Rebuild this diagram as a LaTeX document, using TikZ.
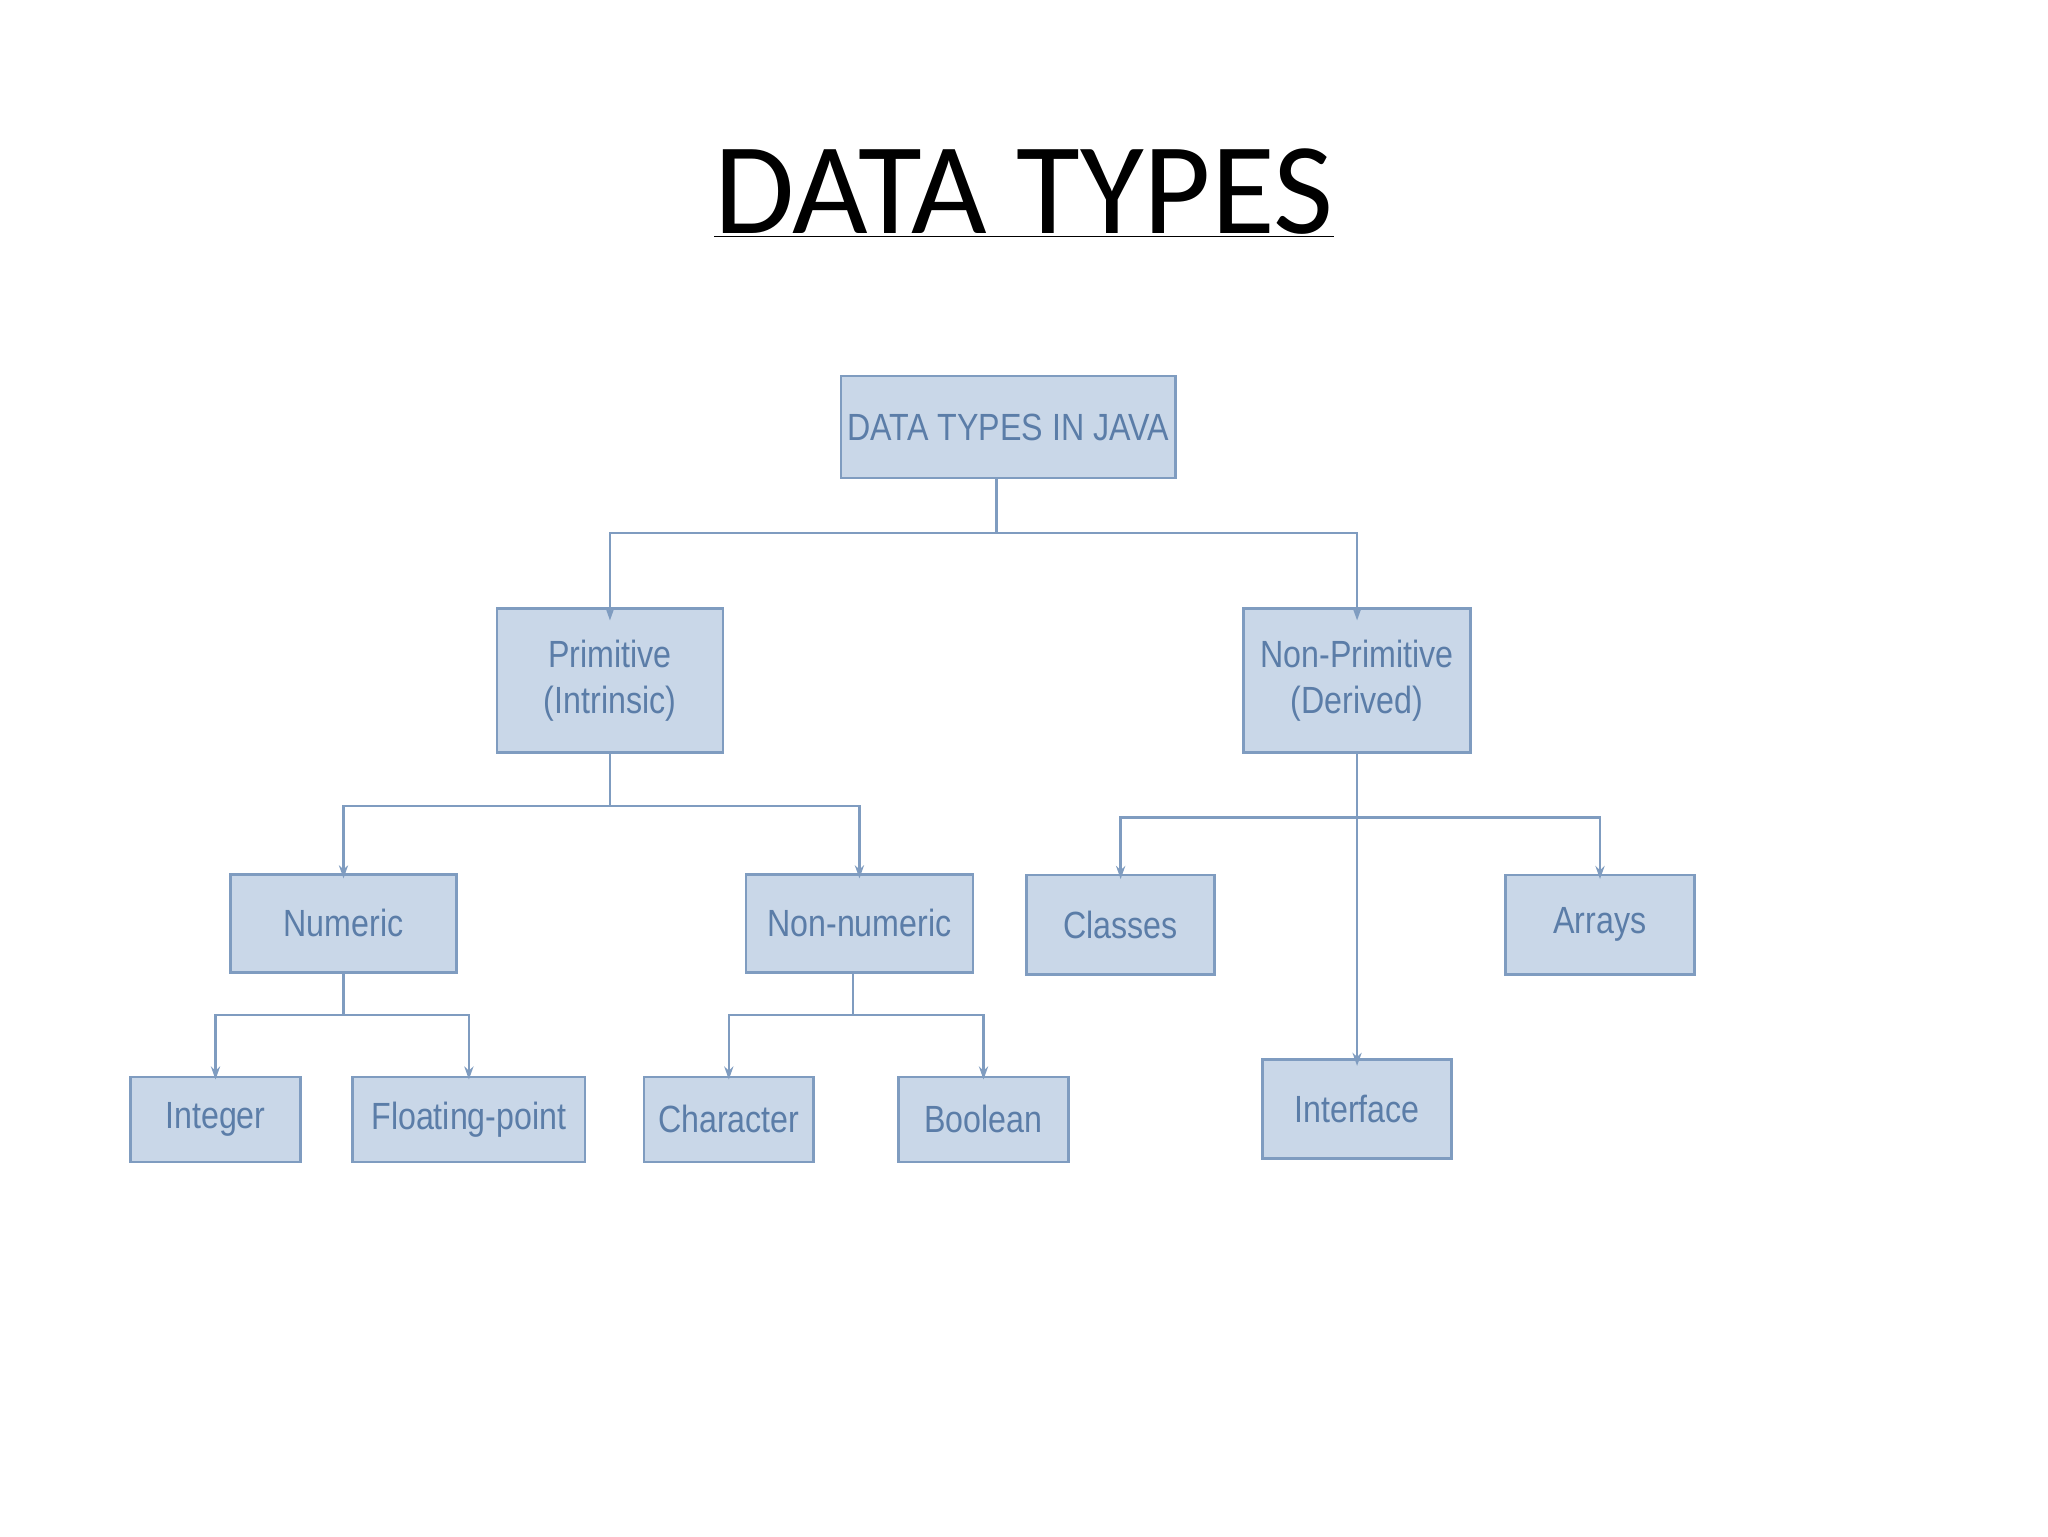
\documentclass[tikz,border=0pt]{standalone}
\usepackage{fontspec}
\setmainfont{Carlito}
\newfontfamily\boxfont[FakeStretch=0.85]{Liberation Sans}
\usetikzlibrary{arrows.meta}
\definecolor{bfill}{HTML}{C9D7E8}
\definecolor{bline}{HTML}{7F9CC0}
\definecolor{btext}{HTML}{5B7DA8}
\begin{document}
\begin{tikzpicture}[x=1pt,y=-1pt,
  tbox/.style={draw=bline,line width=2pt,fill=bfill,text=btext,inner sep=0pt,
    font=\boxfont\fontsize{29}{35}\selectfont,align=center},
  conn/.style={draw=bline,line width=2pt},
  arr/.style={conn,-{Stealth[length=10pt,width=7pt]}}]
\useasboundingbox (0,0) rectangle (1568,1176);
\fill[white] (0,0) rectangle (1568,1176);
\node[font=\fontsize{100}{110}\selectfont] (title) at (784,148) {\underline{DATA TYPES}};
\node[tbox,minimum width=256pt,minimum height=78pt] (root) at (772,327) {DATA TYPES IN JAVA};
\node[tbox,minimum width=173pt,minimum height=110pt] (prim) at (467,521) {Primitive\\(Intrinsic)};
\node[tbox,minimum width=174pt,minimum height=110pt] (nprim) at (1039,521) {Non-Primitive\\(Derived)};
\node[tbox,minimum width=173pt,minimum height=75pt] (num) at (263,707) {Numeric};
\node[tbox,minimum width=174pt,minimum height=75pt] (nnum) at (658,707) {Non-numeric};
\node[tbox,minimum width=144pt,minimum height=76pt] (cls) at (858,708) {Classes};
\node[tbox,minimum width=145pt,minimum height=76pt] (arr) at (1225,708) {Arrays};
\node[tbox,minimum width=130pt,minimum height=65pt] (int) at (165,857) {Integer};
\node[tbox,minimum width=178pt,minimum height=65pt] (flt) at (359,857) {Floating-point};
\node[tbox,minimum width=130pt,minimum height=65pt] (chr) at (558,857) {Character};
\node[tbox,minimum width=130pt,minimum height=65pt] (bool) at (753,857) {Boolean};
\node[tbox,minimum width=145pt,minimum height=76pt] (intf) at (1039,849) {Interface};
% connectors
\coordinate (j1) at (763,408);
\draw[conn] (root.south -| j1) -- (j1);
\draw[arr] (j1) -| ([yshift=-10pt]prim.north);
\draw[arr] (j1) -| ([yshift=-10pt]nprim.north);
\coordinate (j2) at (467,617);
\draw[conn] (prim.south) -- (j2);
\draw[arr] (j2) -| ([yshift=-4pt]num.north);
\draw[arr] (j2) -| ([yshift=-4pt]nnum.north);
\coordinate (j3) at (1039,626);
\draw[arr] (nprim.south) -- ([yshift=-6pt]intf.north);
\draw[arr] (j3) -| ([yshift=-4pt]cls.north);
\draw[arr] (j3) -| ([yshift=-4pt]arr.north);
\coordinate (j4) at (263,777);
\draw[conn] (num.south) -- (j4);
\draw[arr] (j4) -| ([yshift=-3pt]int.north);
\draw[arr] (j4) -| ([yshift=-3pt]flt.north);
\coordinate (j5) at (653,777);
\draw[conn] (nnum.south -| j5) -- (j5);
\draw[arr] (j5) -| ([yshift=-3pt]chr.north);
\draw[arr] (j5) -| ([yshift=-3pt]bool.north);
\end{tikzpicture}
\end{document}
